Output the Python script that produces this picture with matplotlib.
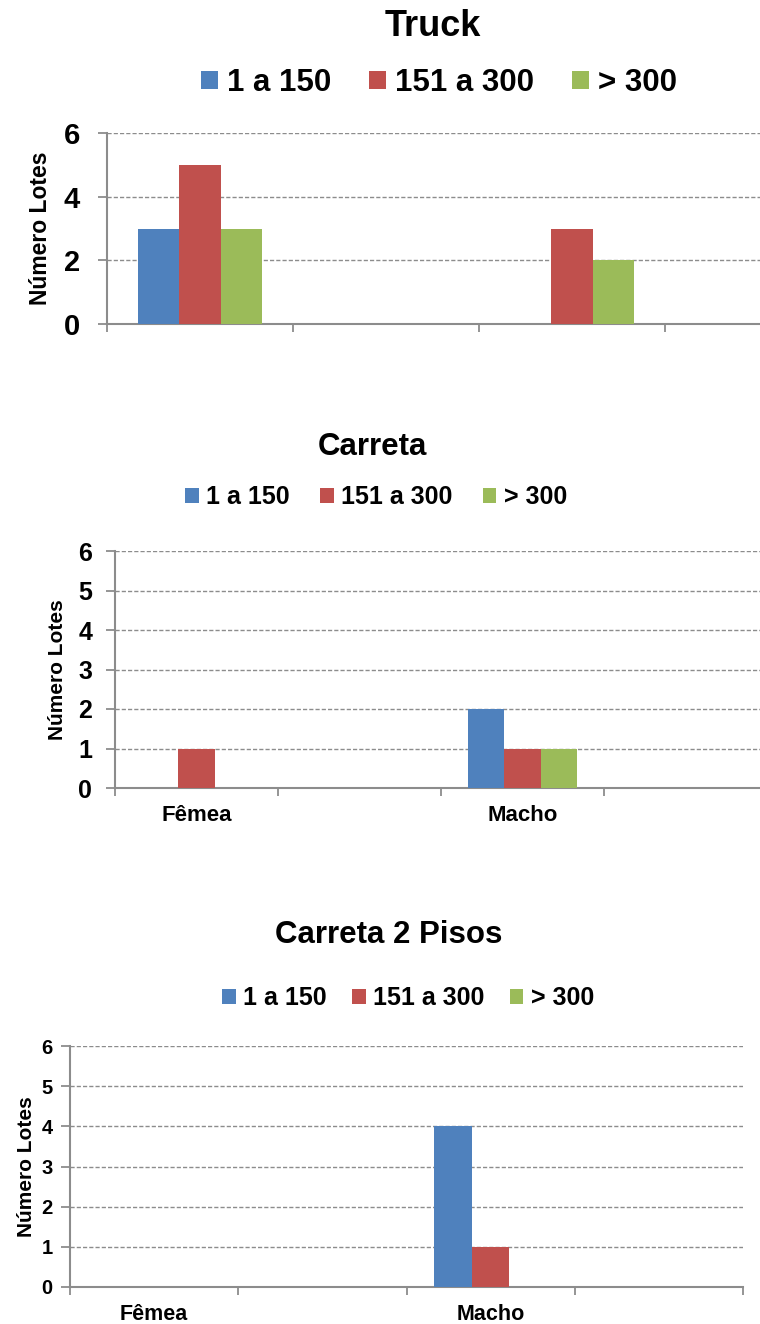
import numpy as np
import matplotlib
matplotlib.use("Agg")
import matplotlib.pyplot as plt
from matplotlib.patches import Patch

plt.rcParams['font.family'] = ['Liberation Sans', 'DejaVu Sans']
plt.rcParams['font.weight'] = 'bold'

# data
categories = ["Fêmea", "", "Macho", ""]
series_names = ["1 a 150", "151 a 300", "> 300"]
colors = ["#4F81BD", "#C0504D", "#9BBB59"]

truck_1_150 = [3, 0, 0, 0]
truck_151_300 = [5, 0, 3, 0]
truck_300 = [3, 0, 2, 0]

carreta_1_150 = [0, 0, 2, 0]
carreta_151_300 = [1, 0, 1, 0]
carreta_300 = [0, 0, 1, 0]

pisos_1_150 = [0, 0, 4, 0]
pisos_151_300 = [0, 0, 1, 0]
pisos_300 = [0, 0, 0, 0]

W, H = 760, 1324
fig = plt.figure(figsize=(W / 100, H / 100), dpi=100)


def px_axes(left, right, top, bottom):
    return fig.add_axes([left / W, 1 - bottom / H, (right - left) / W, (bottom - top) / H])


def draw_chart(ax, series, yticks, tick_fs, show_xlabels, label_fs, ylab_x, ylab_fs,
               ypad, xpad):
    x = np.arange(len(categories))
    bw = 0.223
    for i, vals in enumerate(series):
        ax.bar(x + (i - 1) * bw, vals, bw, color=colors[i], edgecolor="none", zorder=3)
    ax.set_xlim(-0.5, len(categories) - 0.5)
    ax.set_ylim(0, 6)
    ax.set_yticks(yticks)
    ax.set_yticklabels([str(t) for t in yticks], fontsize=tick_fs, fontweight="bold")
    ax.yaxis.grid(True, linestyle=(0, (3, 1.5)), color="#8C8C8C", linewidth=1.0, zorder=0)
    ax.set_xticks(np.arange(len(categories) + 1) - 0.5)
    ax.set_xticklabels([])
    if show_xlabels:
        ax.set_xticks(x, minor=True)
        ax.set_xticklabels(categories, minor=True, fontsize=label_fs, fontweight="bold")
    ax.tick_params(axis="x", which="major", direction="out", length=6, width=1.3,
                   color="#8C8C8C")
    ax.tick_params(axis="x", which="minor", length=0, pad=xpad)
    ax.tick_params(axis="y", direction="out", length=6.5, width=1.3, color="#8C8C8C",
                   pad=ypad)
    for s in ["top", "right"]:
        ax.spines[s].set_visible(False)
    for s in ["left", "bottom"]:
        ax.spines[s].set_color("#8C8C8C")
        ax.spines[s].set_linewidth(1.5)
    ax.set_ylabel("Número Lotes", fontsize=ylab_fs, fontweight="bold")
    ax.yaxis.set_label_coords(ylab_x, 0.5)


def header(title, title_fs, tx, ty, leg_fs, lx, ly, colsp):
    fig.text(tx / W, 1 - ty / H, title, fontsize=title_fs, fontweight="bold",
             ha="center", va="center")
    handles = [Patch(facecolor=c, edgecolor="none") for c in colors]
    fig.legend(handles, series_names, loc="center", bbox_to_anchor=(lx / W, 1 - ly / H),
               ncol=3, frameon=False, prop={"size": leg_fs, "weight": "bold"},
               handlelength=0.55, handleheight=0.55, handletextpad=0.3,
               columnspacing=colsp, borderpad=0)


# Truck
ax1 = px_axes(107, 107 + 4 * 186, 133, 324)
draw_chart(ax1, [truck_1_150, truck_151_300, truck_300], [0, 2, 4, 6], 21, False, 16,
           -0.074, 16.5, 13, 10)
header("Truck", 26, 433, 26, 22.5, 439, 83, 1.2)

# Carreta
ax2 = px_axes(115, 115 + 4 * 163, 551, 788)
draw_chart(ax2, [carreta_1_150, carreta_151_300, carreta_300], range(7), 18, True, 16,
           -0.0736, 15, 10, 12)
header("Carreta", 22.5, 372, 447, 18, 376, 497, 1.2)

# Carreta 2 Pisos
ax3 = px_axes(70, 743, 1046, 1287)
draw_chart(ax3, [pisos_1_150, pisos_151_300, pisos_300], range(7), 14.5, True, 15.5,
           -0.0505, 15, 6, 12)
header("Carreta 2 Pisos", 22.5, 389, 935, 18, 408, 998, 1.0)

fig.savefig("out.png", dpi=100)
